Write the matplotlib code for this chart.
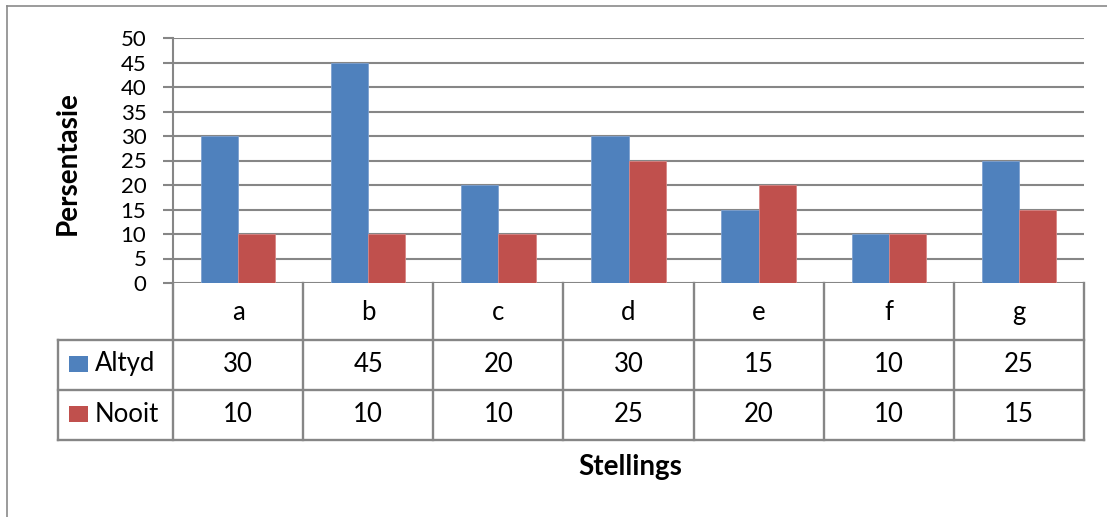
import matplotlib
matplotlib.use('Agg')
import matplotlib.pyplot as plt
from matplotlib.lines import Line2D
from matplotlib.patches import Rectangle
import numpy as np

# ---- data ----
categories = ['a', 'b', 'c', 'd', 'e', 'f', 'g']
series_names = ['Altyd', 'Nooit']
altyd = [30, 45, 20, 30, 15, 10, 25]
nooit = [10, 10, 10, 25, 20, 10, 15]
yticks = [0, 5, 10, 15, 20, 25, 30, 35, 40, 45, 50]
y_label = 'Persentasie'
x_label = 'Stellings'

colors = ['#4F81BD', '#C0504D']
edge_colors = ['#7FA2D0', '#D98584']
grid_color = '#868686'

plt.rcParams['font.family'] = ['Lato', 'DejaVu Sans']

W, H = 1107, 517
fig = plt.figure(figsize=(W / 100, H / 100), dpi=100)
fig.patch.set_facecolor('white')

# plot area in pixels
L, R, T, B = 173, 1084, 38, 283
ax = fig.add_axes([L / W, 1 - B / H, (R - L) / W, (B - T) / H])
n = len(categories)
x = np.arange(n)
bw = 1 / 3.5
ax.bar(x - bw / 2, altyd, bw, color=colors[0], edgecolor=edge_colors[0], linewidth=0.6, zorder=3)
ax.bar(x + bw / 2, nooit, bw, color=colors[1], edgecolor=edge_colors[1], linewidth=0.6, zorder=3)
ax.set_xlim(-0.5, n - 0.5)
ax.set_ylim(0, 50)
ax.set_yticks(yticks)
ax.grid(axis='y', color=grid_color, linewidth=1.5, zorder=0)
ax.set_axisbelow(True)
for s in ['top', 'right', 'bottom']:
    ax.spines[s].set_visible(False)
ax.spines['left'].set_color(grid_color)
ax.spines['left'].set_linewidth(1.5)
ax.tick_params(axis='y', length=7.2, width=1.5, color=grid_color, pad=12, labelsize=16)
ax.tick_params(axis='x', bottom=False, labelbottom=False)
ax.set_facecolor('none')

# ---- data table ----
TL, TB = 58, 440
row_edges = [0, 57, 107, 157]
cw = (R - L) / n
xleft = -0.5 - (L - TL) / cw
tax = fig.add_axes([TL / W, 1 - TB / H, (R - TL) / W, (TB - B) / H])
tax.set_xlim(xleft, n - 0.5)
tax.set_ylim(row_edges[-1], row_edges[0])
tax.axis('off')

lkw = dict(color=grid_color, linewidth=1.7, clip_on=False, solid_capstyle='projecting')
for i in range(n + 1):
    tax.plot([i - 0.5, i - 0.5], [row_edges[0], row_edges[-1]], **lkw)
for yy in row_edges[1:]:
    tax.plot([xleft, n - 0.5], [yy, yy], **lkw)
tax.plot([xleft, xleft], [row_edges[1], row_edges[-1]], **lkw)

for i, c in enumerate(categories):
    tax.text(i, (row_edges[0] + row_edges[1]) / 2 + 1, c, ha='center', va='center', fontsize=18.5)
for r, vals in enumerate([altyd, nooit]):
    yc = (row_edges[r + 1] + row_edges[r + 2]) / 2
    for i, v in enumerate(vals):
        tax.text(i, yc, str(v), ha='center', va='center', fontsize=18.5)
    # legend key
    tax.add_patch(Rectangle((xleft + 11 / cw, yc - 9), 19 / cw, 16,
                            facecolor=colors[r], edgecolor='none', clip_on=False))
    tax.text(xleft + 37 / cw, yc - 1, series_names[r], ha='left', va='center', fontsize=18.5)

# ---- axis titles ----
fig.text(68 / W, 1 - 163 / H, y_label, rotation=90, ha='center', va='center',
         fontsize=20, fontweight='bold')
fig.text(630 / W, 1 - 467 / H, x_label, ha='center', va='center',
         fontsize=20, fontweight='bold')

# ---- outer chart border ----
fig.add_artist(Line2D([7 / W, 7 / W], [1 - 6 / H, 0], color='#8A8A8A', linewidth=1.2))
fig.add_artist(Line2D([7 / W, 1], [1 - 6 / H, 1 - 6 / H], color='#8A8A8A', linewidth=1.2))

fig.savefig('out.png', dpi=100)
